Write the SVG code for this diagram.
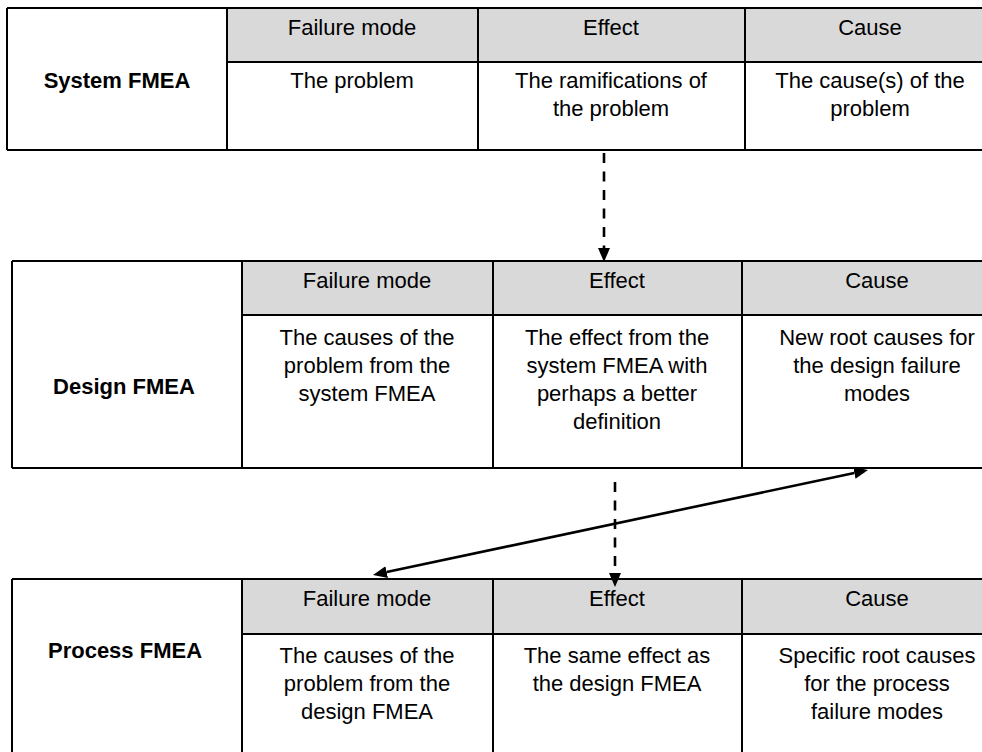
<svg xmlns="http://www.w3.org/2000/svg" width="982" height="752" viewBox="0 0 982 752">
  <style>
    .grid { stroke: #000; stroke-width: 2; fill: none; }
    .head { fill: #d9d9d9; stroke: none; }
    text { font-family: "Liberation Sans", Arial, sans-serif; font-size: 22px; fill: #000; text-anchor: middle; }
    .title { font-weight: bold; }
    .conn { stroke: #000; stroke-width: 2.6; fill: none; }
    .dash { stroke-dasharray: 10 8.5; }
  </style>
  <defs>
    <marker id="arrow" markerUnits="userSpaceOnUse" markerWidth="15" markerHeight="13" refX="0" refY="6" orient="auto-start-reverse">
      <path d="M0,0 L14,6 L0,12 z" fill="#000"/>
    </marker>
  </defs>
  <rect width="982" height="752" fill="#fff"/>

  <!-- System FMEA table -->
  <g id="system-fmea">
    <rect class="head" x="227" y="8" width="760" height="54"/>
    <path class="grid" d="M7,8 H982 M227,62 H982 M7,150 H982 M7,8 V150 M227,8 V150 M478,8 V150 M745,8 V150"/>
    <text class="title" x="117" y="88">System FMEA</text>
    <text x="352" y="35">Failure mode</text>
    <text x="611" y="35">Effect</text>
    <text x="870" y="35">Cause</text>
    <text x="352" y="88">The problem</text>
    <text x="611" y="88">The ramifications of</text>
    <text x="611" y="116">the problem</text>
    <text x="870" y="88">The cause(s) of the</text>
    <text x="870" y="116">problem</text>
  </g>

  <!-- Design FMEA table -->
  <g id="design-fmea">
    <rect class="head" x="242" y="261" width="745" height="54"/>
    <path class="grid" d="M12,261 H982 M242,315 H982 M12,468 H982 M12,261 V468 M242,261 V468 M493,261 V468 M742,261 V468"/>
    <text class="title" x="124" y="394">Design FMEA</text>
    <text x="367" y="288">Failure mode</text>
    <text x="617" y="288">Effect</text>
    <text x="877" y="288">Cause</text>
    <text x="367" y="345">The causes of the</text>
    <text x="367" y="373">problem from the</text>
    <text x="367" y="401">system FMEA</text>
    <text x="617" y="345">The effect from the</text>
    <text x="617" y="373">system FMEA with</text>
    <text x="617" y="401">perhaps a better</text>
    <text x="617" y="429">definition</text>
    <text x="877" y="345">New root causes for</text>
    <text x="877" y="373">the design failure</text>
    <text x="877" y="401">modes</text>
  </g>

  <!-- Process FMEA table -->
  <g id="process-fmea">
    <rect class="head" x="242" y="579" width="745" height="55"/>
    <path class="grid" d="M12,579 H982 M242,634 H982 M12,579 V760 M242,579 V760 M493,579 V760 M742,579 V760"/>
    <text class="title" x="125" y="658">Process FMEA</text>
    <text x="367" y="606">Failure mode</text>
    <text x="617" y="606">Effect</text>
    <text x="877" y="606">Cause</text>
    <text x="367" y="663">The causes of the</text>
    <text x="367" y="691">problem from the</text>
    <text x="367" y="719">design FMEA</text>
    <text x="617" y="663">The same effect as</text>
    <text x="617" y="691">the design FMEA</text>
    <text x="877" y="663">Specific root causes</text>
    <text x="877" y="691">for the process</text>
    <text x="877" y="719">failure modes</text>
  </g>

  <!-- Connectors -->
  <g id="connectors">
    <line class="conn dash" x1="604" y1="153" x2="604" y2="248" marker-end="url(#arrow)"/>
    <line class="conn dash" x1="615" y1="482" x2="615" y2="573" marker-end="url(#arrow)"/>
    <line class="conn" x1="386.7" y1="572.1" x2="854.3" y2="472.9" marker-start="url(#arrow)" marker-end="url(#arrow)"/>
  </g>
</svg>
